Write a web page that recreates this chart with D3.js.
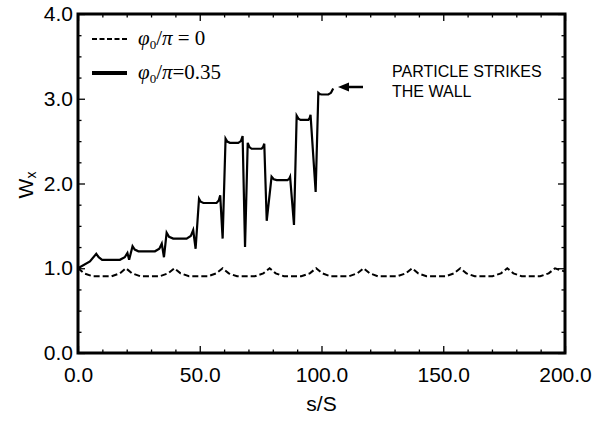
<!DOCTYPE html>
<html>
<head>
<meta charset="utf-8">
<script src="https://cdn.jsdelivr.net/npm/d3@7"></script>
<style>
  body { margin: 0; background: #fff; }
  svg { display: block; }
</style>
</head>
<body>
<svg id="chart" width="604" height="422"></svg>
<script>
// phi0/pi = 0.35 (solid curve) : s/S and Wx
var sSolid = [0, 4.9, 7.5, 8.5, 9.9, 17.2, 19.2, 20.3, 21, 22.4, 23.3, 24.8, 31.6, 33.4, 34.4,
  35.3, 36.4, 37.4, 39.1, 44.6, 46.3, 47.3, 48.3, 49.7, 50.4, 51.5, 56.9, 57.8, 58.4, 59.4,
  60.6, 61.3, 62.4, 65.8, 66.9, 67.6, 68.6, 69.7, 70.4, 71.3, 75.4, 76.0, 76.5, 77.5, 79.5,
  80.4, 81.6, 86, 86.7, 87.1, 88.7, 89.8, 90.5, 91.4, 94.6, 95.1, 95.5, 97.6, 98.7, 99.3,
  100, 102.8, 103.9, 104.8];
var wSolid = [1.0, 1.08, 1.17, 1.13, 1.10, 1.10, 1.13, 1.18, 1.10, 1.26, 1.22, 1.20, 1.20, 1.23, 1.29,
  1.13, 1.42, 1.37, 1.35, 1.35, 1.38, 1.45, 1.23, 1.82, 1.785, 1.77, 1.77, 1.80, 1.86, 1.35,
  2.53, 2.495, 2.48, 2.48, 2.50, 2.56, 1.25, 2.48, 2.43, 2.41, 2.41, 2.43, 2.47, 1.56, 2.08,
  2.05, 2.04, 2.04, 2.055, 2.08, 1.51, 2.80, 2.765, 2.75, 2.75, 2.77, 2.81, 1.90, 3.07, 3.055,
  3.05, 3.05, 3.07, 3.12];

// phi0/pi = 0 (dashed curve)
var sDash = [0, 2.5, 6, 13.7, 17.2, 19.7, 22.2, 25.6, 33.5, 37, 39.6, 42.1, 45.6, 53.3, 56.8,
  59.4, 61.9, 65.3, 72.6, 76.1, 78.7, 81.2, 84.6, 91.7, 95.2, 97.8, 100.3, 103.7, 111.2,
  114.7, 117.3, 119.8, 123.2, 131.1, 134.6, 137.2, 139.7, 143.1, 150.9, 154.4, 157,
  159.5, 162.9, 170.2, 173.7, 176.3, 178.8, 182.2, 189.8, 193.3, 195.9, 200];
var wDash = [1.0, 0.94, 0.905, 0.905, 0.94, 1.0, 0.94, 0.905, 0.905, 0.94, 1.0, 0.94, 0.905, 0.905, 0.94,
  1.0, 0.94, 0.905, 0.905, 0.94, 1.0, 0.94, 0.905, 0.905, 0.94, 1.0, 0.94, 0.905, 0.905,
  0.94, 1.0, 0.94, 0.905, 0.905, 0.94, 1.0, 0.94, 0.905, 0.905, 0.94, 1.0,
  0.94, 0.905, 0.905, 0.94, 1.0, 0.94, 0.905, 0.905, 0.94, 1.0, 0.96];

var xMajor = [0, 50, 100, 150, 200];
var xMinor = [10, 20, 30, 40, 60, 70, 80, 90, 110, 120, 130, 140, 160, 170, 180, 190];
var yMajor = [0, 1, 2, 3, 4];
var yMinor = [0.25, 0.5, 0.75, 1.25, 1.5, 1.75, 2.25, 2.5, 2.75, 3.25, 3.5, 3.75];

var svg = d3.select("#chart");
var plotLeft = 78, plotRight = 565, plotTop = 14, plotBottom = 353;

var x = d3.scaleLinear().domain([0, 200]).range([plotLeft, plotRight]);
var y = d3.scaleLinear().domain([0, 4]).range([plotBottom, plotTop]);
var fmt = d3.format(".1f");
var sansFont = "'Liberation Sans', Arial, Helvetica, sans-serif";

// axes, ticks pointing inward on all four sides
function addAxis(axis, tx, ty, showLabels) {
  var g = svg.append("g").attr("transform", "translate(" + tx + "," + ty + ")").call(axis);
  g.select(".domain").remove();
  g.selectAll(".tick line").attr("stroke", "#000").attr("stroke-width", 1.3);
  if (!showLabels) g.selectAll("text").remove();
  g.selectAll("text").style("font-family", sansFont).style("font-size", "21px").attr("fill", "#000");
  return g;
}
addAxis(d3.axisBottom(x).tickValues(xMajor).tickSize(-7).tickPadding(14).tickFormat(fmt), 0, plotBottom, true);
addAxis(d3.axisBottom(x).tickValues(xMinor).tickSize(-3.5), 0, plotBottom, false);
addAxis(d3.axisTop(x).tickValues(xMajor).tickSize(-7), 0, plotTop, false);
addAxis(d3.axisTop(x).tickValues(xMinor).tickSize(-3.5), 0, plotTop, false);
addAxis(d3.axisLeft(y).tickValues(yMajor).tickSize(-7).tickPadding(5).tickFormat(fmt), plotLeft, 0, true);
addAxis(d3.axisLeft(y).tickValues(yMinor).tickSize(-3.5), plotLeft, 0, false);
addAxis(d3.axisRight(y).tickValues(yMajor).tickSize(-7), plotRight, 0, false);
addAxis(d3.axisRight(y).tickValues(yMinor).tickSize(-3.5), plotRight, 0, false);

// curves
var line = d3.line().x(function (d) { return x(d[0]); }).y(function (d) { return y(d[1]); });

svg.append("path")
  .datum(d3.zip(sDash, wDash))
  .attr("d", line)
  .attr("fill", "none")
  .attr("stroke", "#000")
  .attr("stroke-width", 2)
  .attr("stroke-dasharray", "6,3");

svg.append("path")
  .datum(d3.zip(sSolid, wSolid))
  .attr("d", line)
  .attr("fill", "none")
  .attr("stroke", "#000")
  .attr("stroke-width", 2.2)
  .attr("stroke-linejoin", "miter");

// frame
svg.append("rect")
  .attr("x", plotLeft).attr("y", plotTop)
  .attr("width", plotRight - plotLeft).attr("height", plotBottom - plotTop)
  .attr("fill", "none").attr("stroke", "#000").attr("stroke-width", 3);

// axis titles
svg.append("text")
  .attr("x", (plotLeft + plotRight) / 2).attr("y", 411)
  .attr("text-anchor", "middle")
  .style("font-family", sansFont).style("font-size", "21px")
  .text("s/S");

var yt = svg.append("text")
  .attr("transform", "translate(33,185) rotate(-90)")
  .attr("text-anchor", "middle")
  .style("font-family", sansFont).style("font-size", "21px");
yt.append("tspan").text("W");
yt.append("tspan").attr("dy", 3).style("font-size", "14px").text("x");

// legend
var legend = [
  { label: "0", dash: "5,2.5", width: 2, y: 39 },
  { label: "0.35", dash: null, width: 4, y: 73 }
];
legend.forEach(function (d, i) {
  svg.append("line")
    .attr("x1", 92).attr("x2", 127).attr("y1", d.y).attr("y2", d.y)
    .attr("stroke", "#000").attr("stroke-width", d.width)
    .attr("stroke-dasharray", d.dash);
  var t = svg.append("text")
    .attr("x", 138).attr("y", d.y + 6)
    .style("font-family", "'Liberation Serif', 'Times New Roman', serif")
    .style("font-size", "21px");
  t.append("tspan").style("font-style", "italic").text("\u03c6");
  t.append("tspan").attr("dy", 4).style("font-size", "13px").text("0");
  t.append("tspan").attr("dy", -4).text("/");
  t.append("tspan").style("font-style", "italic").text("\u03c0");
  t.append("tspan").text(i === 0 ? " = " + d.label : "=" + d.label);
});

// annotation
svg.append("text")
  .attr("x", 392).attr("y", 77)
  .style("font-family", sansFont).style("font-size", "16px")
  .text("PARTICLE STRIKES");
svg.append("text")
  .attr("x", 392).attr("y", 97)
  .style("font-family", sansFont).style("font-size", "16px")
  .text("THE WALL");
svg.append("line")
  .attr("x1", 345).attr("x2", 363).attr("y1", 87).attr("y2", 87)
  .attr("stroke", "#000").attr("stroke-width", 2.5);
svg.append("path")
  .attr("d", "M338,87 L349,82.5 L349,91.5 Z")
  .attr("fill", "#000");
</script>
</body>
</html>
